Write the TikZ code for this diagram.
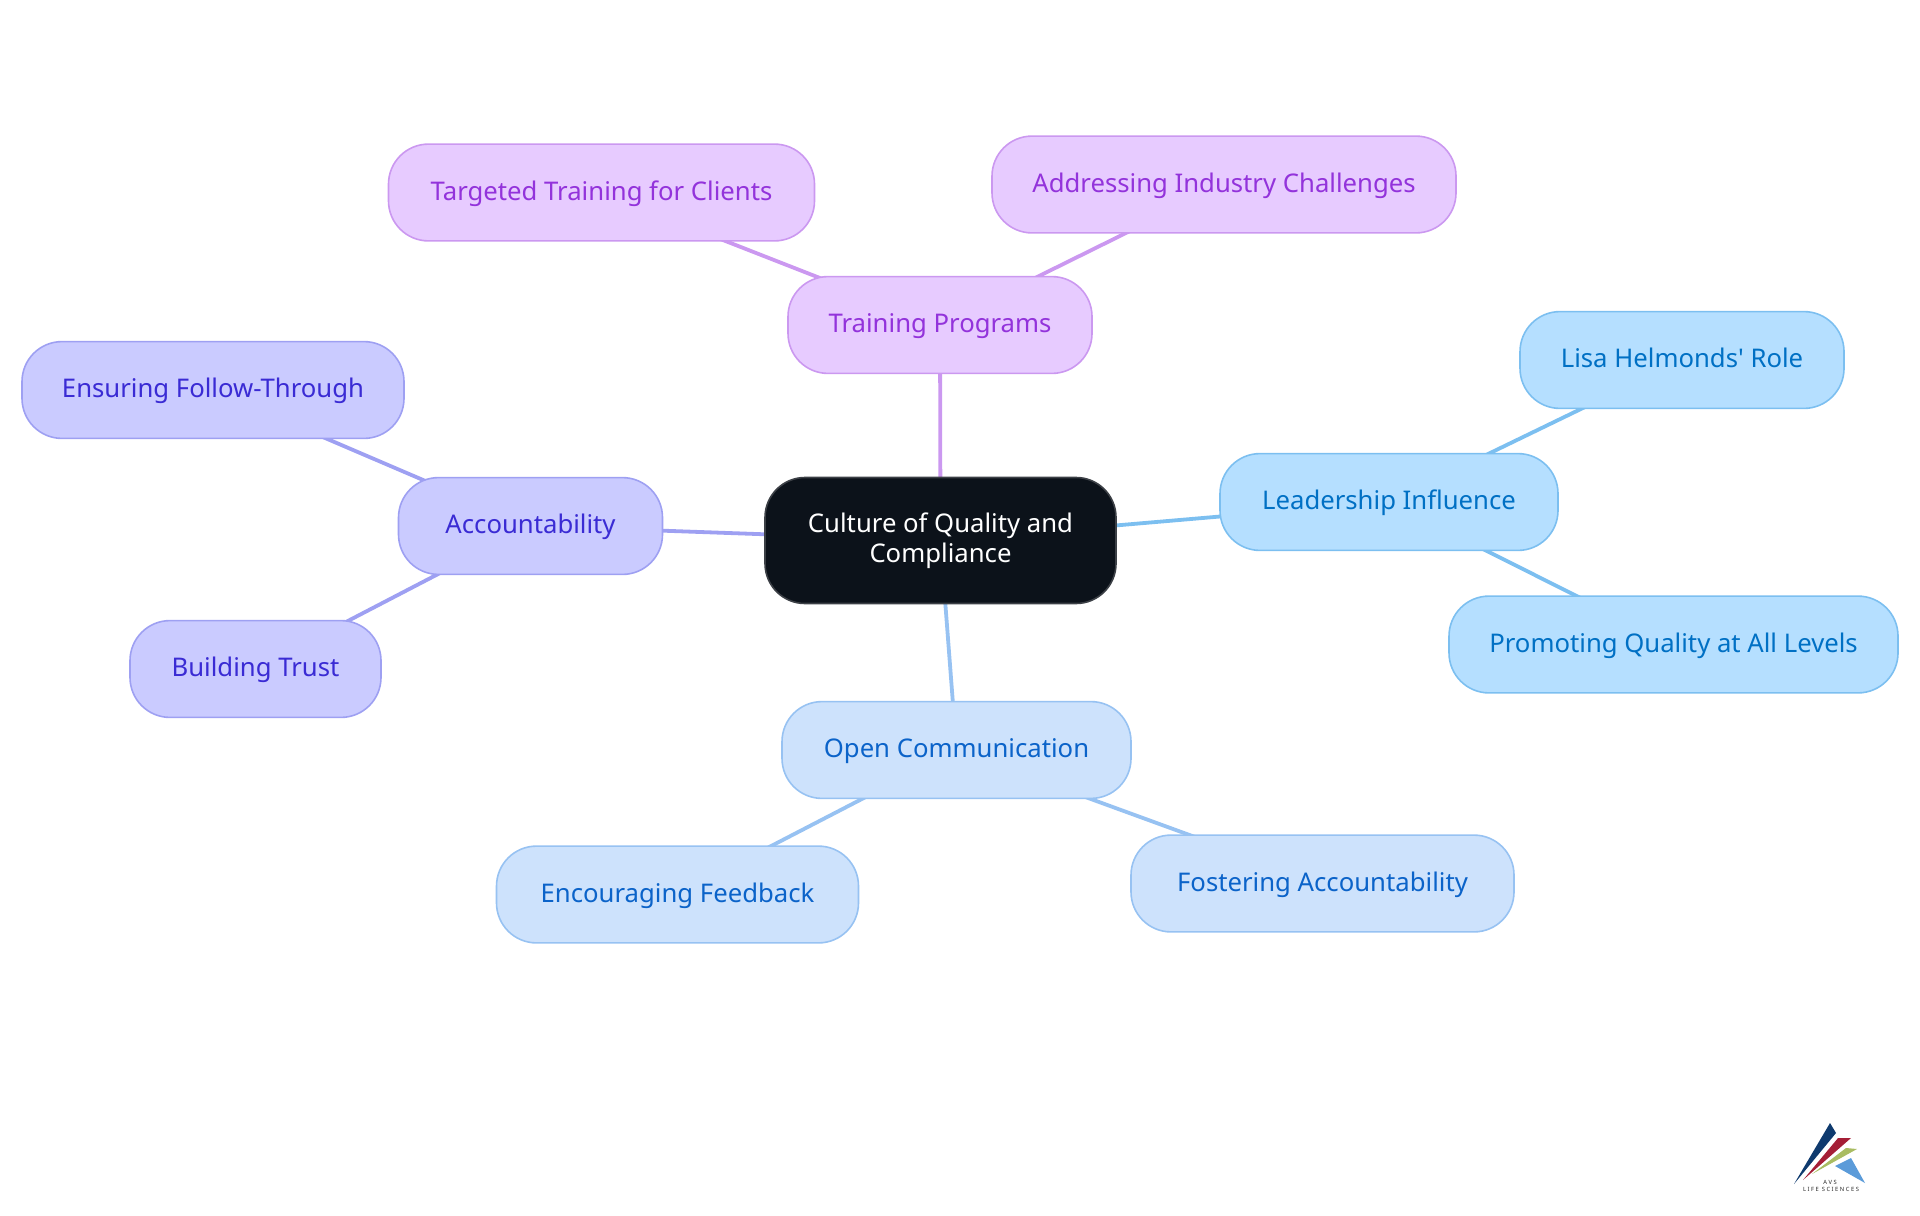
\documentclass[tikz,border=0pt]{standalone}
\usepackage{fontspec}
\setmainfont{Noto Sans}
\newfontfamily\rawfont{Noto Sans}
\usetikzlibrary{backgrounds}
\definecolor{purF}{HTML}{E7CBFF}\definecolor{purB}{HTML}{CB98F0}\definecolor{purT}{HTML}{9333DB}
\definecolor{skyF}{HTML}{B5DFFF}\definecolor{skyB}{HTML}{7CBFF0}\definecolor{skyT}{HTML}{0070C4}
\definecolor{bluF}{HTML}{CDE2FC}\definecolor{bluB}{HTML}{97C2F2}\definecolor{bluT}{HTML}{0B63C9}
\definecolor{indF}{HTML}{CACBFF}\definecolor{indB}{HTML}{9EA0F2}\definecolor{indT}{HTML}{3A2BD4}
\definecolor{rootF}{HTML}{0C121A}\definecolor{rootB}{HTML}{3C4046}
\definecolor{logoA}{HTML}{0F3A6E}\definecolor{logoB}{HTML}{A51E36}\definecolor{logoC}{HTML}{A9BC62}\definecolor{logoD}{HTML}{5B9BD9}
\tikzset{
  x=0.5pt,y=-0.5pt,
  box/.style={draw,rounded corners=20pt,line width=0.8pt,inner sep=0pt,font=\fontsize{12.85}{15}\selectfont,text height=9.8pt,text depth=2.1pt,minimum height=48.4pt},
  purbox/.style={box,fill=purF,draw=purB,text=purT},
  skybox/.style={box,fill=skyF,draw=skyB,text=skyT},
  blubox/.style={box,fill=bluF,draw=bluB,text=bluT},
  indbox/.style={box,fill=indF,draw=indB,text=indT},
  rootbox/.style={draw=rootB,fill=rootF,text=white,rounded corners=20pt,line width=0.8pt,inner sep=0pt,font=\fontsize{12.85}{15}\selectfont,align=center,minimum width=175.5pt,minimum height=63pt},
  edge/.style={line width=1.9pt},
  logotext/.style={inner sep=0pt,font=\fontsize{2.9}{3}\selectfont,text=black!85},
}
\begin{document}
\begin{tikzpicture}
\useasboundingbox (0,0) rectangle (1920,1215);
\node[rootbox] (root) at (940.5,540.5) {Culture of Quality and\\Compliance};
\node[purbox,minimum width=152pt] (train) at (940,325) {Training Programs};
\node[purbox,minimum width=213pt] (target) at (601.5,192.5) {Targeted Training for Clients};
\node[purbox,minimum width=232pt] (address) at (1224,184.5) {Addressing Industry Challenges};
\node[skybox,minimum width=169pt] (lead) at (1389,502) {Leadership Influence};
\node[skybox,minimum width=162pt] (lisa) at (1682,360) {Lisa Helmonds{\rawfont '} Role};
\node[skybox,minimum width=224.5pt] (promo) at (1673.5,644.5) {Promoting Quality at All Levels};
\node[blubox,minimum width=174.5pt] (open) at (956.5,750) {Open Communication};
\node[blubox,minimum width=181pt] (enc) at (677.5,894.5) {Encouraging Feedback};
\node[blubox,minimum width=191.5pt] (fost) at (1322.5,883.5) {Fostering Accountability};
\node[indbox,minimum width=132pt] (acc) at (530.5,526) {Accountability};
\node[indbox,minimum width=191pt] (ens) at (213,390) {Ensuring Follow-Through};
\node[indbox,minimum width=125.5pt] (build) at (255.5,669) {Building Trust};
\begin{scope}[on background layer]
\draw[edge,purB] (root.center) -- (train.center);
\draw[edge,purB] (train.center) -- (target.center);
\draw[edge,purB] (train.center) -- (address.center);
\draw[edge,skyB] (root.center) -- (lead.center);
\draw[edge,skyB] (lead.center) -- (lisa.center);
\draw[edge,skyB] (lead.center) -- (promo.center);
\draw[edge,bluB] (root.center) -- (open.center);
\draw[edge,bluB] (open.center) -- (enc.center);
\draw[edge,bluB] (open.center) -- (fost.center);
\draw[edge,indB] (root.center) -- (acc.center);
\draw[edge,indB] (acc.center) -- (ens.center);
\draw[edge,indB] (acc.center) -- (build.center);
\end{scope}
\fill[logoA] (1830,1123) -- (1836,1133) -- (1794,1184) -- cycle;
\fill[logoB] (1838,1138) -- (1851,1138) -- (1803,1180) -- cycle;
\fill[logoC] (1846,1148) -- (1857,1149) -- (1812,1174) -- cycle;
\fill[logoD] (1851,1158) -- (1865,1183) -- (1835,1166) -- cycle;
\node[logotext] (logoa) at (1830,1182) {A V S};
\node[logotext] (logob) at (1831,1189) {L I F E\ \ S C I E N C E S};
\end{tikzpicture}
\end{document}
